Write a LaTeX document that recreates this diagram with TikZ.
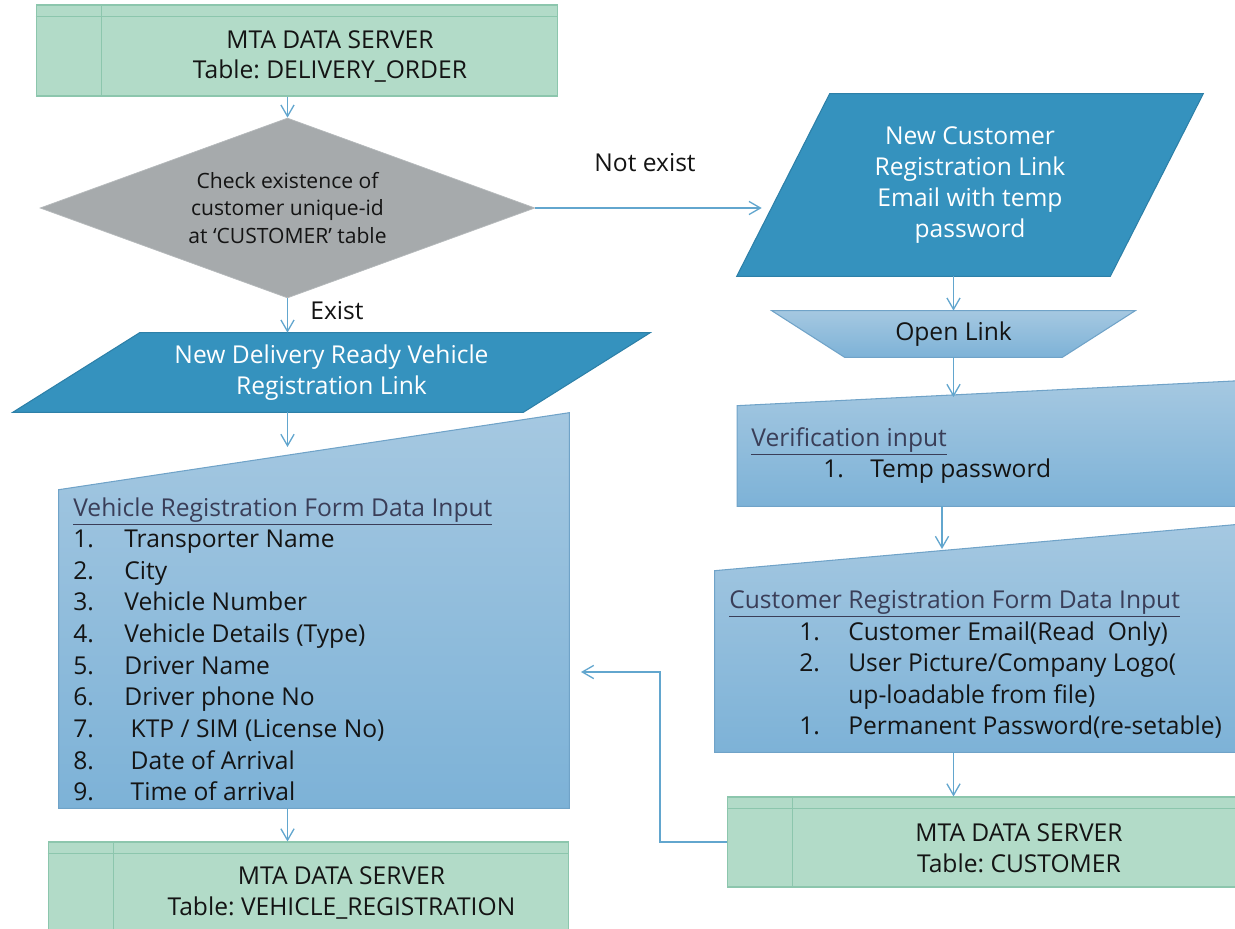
\documentclass[tikz,border=0pt]{standalone}
\usepackage{fontspec}
\setmainfont{Open Sans}
\frenchspacing
\usetikzlibrary{shapes.geometric,arrows.meta,calc,backgrounds}

\definecolor{ServerFill}{RGB}{178,219,200}
\definecolor{ServerEdge}{RGB}{140,198,173}
\definecolor{CheckFill}{RGB}{166,170,172}
\definecolor{CheckEdge}{RGB}{182,186,188}
\definecolor{LinkFill}{RGB}{53,146,190}
\definecolor{LinkEdge}{RGB}{45,128,168}
\definecolor{InputTop}{RGB}{165,200,225}
\definecolor{InputBottom}{RGB}{125,178,215}
\definecolor{InputEdge}{RGB}{112,163,200}
\definecolor{EdgeBlue}{RGB}{98,166,206}
\definecolor{Ink}{RGB}{20,20,20}
\definecolor{TitleInk}{RGB}{58,62,88}

\newcommand{\BoxFont}{\fontsize{14pt}{17.6pt}\selectfont}
\newcommand{\ListFont}{\fontsize{14pt}{18pt}\selectfont}
\newcommand{\CheckFont}{\fontsize{12pt}{15.4pt}\selectfont}
\newcommand{\Num}[2]{\makebox[#1][l]{#2}}

\tikzstyle{ServerNode}=[rectangle, draw=ServerEdge, fill=ServerFill, line width=0.6pt, inner sep=0pt]
\tikzstyle{ServerLine}=[draw=ServerEdge, line width=0.6pt]
\tikzstyle{ServerText}=[align=center, font=\BoxFont, text=Ink, inner sep=0pt]
\tikzstyle{CheckNode}=[diamond, aspect=2.7, fill=CheckFill, draw=CheckEdge, line width=0.4pt, inner sep=0pt, align=center, font=\CheckFont, text=Ink]
\tikzstyle{AreaNode}=[rectangle, inner sep=0pt]
\tikzstyle{LinkNode}=[AreaNode, align=center, font=\BoxFont, text=white]
\tikzstyle{OpenNode}=[AreaNode, font=\BoxFont, text=Ink]
\tikzstyle{LinkShape}=[fill=LinkFill, draw=LinkEdge, line width=0.6pt]
\tikzstyle{InputShape}=[top color=InputTop, bottom color=InputBottom, draw=InputEdge, line width=0.6pt]
\tikzstyle{FormText}=[anchor=north west, inner sep=0pt, align=left, font=\ListFont, text=Ink]
\tikzstyle{EdgeLabel}=[font=\BoxFont, text=Ink, inner sep=0pt]
\tikzstyle{FlowEdge}=[->, draw=EdgeBlue, line width=0.75pt]
\tikzset{>={Straight Barb[length=6.5pt,width=7.5pt]}}

\begin{document}
\begin{tikzpicture}[x=0.02cm, y=-0.02cm]
\useasboundingbox (0,0) rectangle (1235,929);

% servers
\node[ServerNode, minimum width=10.44cm, minimum height=1.82cm](SRV0) at (297,50.5) {};
\draw[ServerLine] ($(SRV0.north west)+(66,0)$) -- ($(SRV0.south west)+(66,0)$);
\draw[ServerLine] ($(SRV0.north west)+(0,12)$) -- ($(SRV0.north east)+(0,12)$);
\node[ServerText](SRV0TXT) at ($(SRV0.center)+(33,6)$) {MTA DATA SERVER\\Table: DELIVERY\_ORDER};

\node[ServerNode, minimum width=10.42cm, minimum height=1.8cm](SRVV) at (308.5,887) {};
\draw[ServerLine] ($(SRVV.north west)+(66,0)$) -- ($(SRVV.south west)+(66,0)$);
\draw[ServerLine] ($(SRVV.north west)+(0,12)$) -- ($(SRVV.north east)+(0,12)$);
\node[ServerText](SRVVTXT) at ($(SRVV.center)+(33,6)$) {MTA DATA SERVER\\Table: VEHICLE\_REGISTRATION};

\node[ServerNode, minimum width=10.36cm, minimum height=1.8cm](SRVC) at (986,842) {};
\draw[ServerLine] ($(SRVC.north west)+(66,0)$) -- ($(SRVC.south west)+(66,0)$);
\draw[ServerLine] ($(SRVC.north west)+(0,12)$) -- ($(SRVC.north east)+(0,12)$);
\node[ServerText](SRVCTXT) at ($(SRVC.center)+(33,6)$) {MTA DATA SERVER\\Table: CUSTOMER};

% decision
\node[CheckNode, minimum width=9.9cm, minimum height=3.6cm](CHECK) at (287.5,208) {Check existence of\\customer unique-id\\at `CUSTOMER' table};

% links
\node[LinkNode, minimum width=12.74cm, minimum height=1.58cm](LINKV) at (331.5,372.5) {New Delivery Ready Vehicle\\Registration Link};
\node[LinkNode, minimum width=9.32cm, minimum height=3.64cm](LINKC) at (970,185) {New Customer\\Registration Link\\Email with temp\\password};
\node[OpenNode, minimum width=7.26cm, minimum height=0.92cm](OPEN) at (953.5,334) {Open Link};

% manual inputs
\node[AreaNode, minimum width=10.2cm, minimum height=7.9cm](FORMV) at (314,610.5) {};
\node[AreaNode, minimum width=10.05cm, minimum height=2.5cm](VERIF) at (988.75,443.5) {};
\node[AreaNode, minimum width=10.5cm, minimum height=4.55cm](FORMC) at (977.5,638.25) {};

\begin{scope}[on background layer]
\path[LinkShape] ($(LINKV.north west)+(127,0)$) -- (LINKV.north east) -- ($(LINKV.south east)+(-127,0)$) -- (LINKV.south west) -- cycle;
\path[LinkShape] ($(LINKC.north west)+(93,0)$) -- (LINKC.north east) -- ($(LINKC.south east)+(-93,0)$) -- (LINKC.south west) -- cycle;
\path[InputShape] (OPEN.north west) -- (OPEN.north east) -- ($(OPEN.south east)+(-73,0)$) -- ($(OPEN.south west)+(73,0)$) -- cycle;
\path[InputShape] ($(FORMV.north west)+(0,77)$) -- (FORMV.north east) -- (FORMV.south east) -- (FORMV.south west) -- cycle;
\path[InputShape] ($(VERIF.north west)+(0,25)$) -- (VERIF.north east) -- (VERIF.south east) -- (VERIF.south west) -- cycle;
\path[InputShape] ($(FORMC.north west)+(0,46.5)$) -- (FORMC.north east) -- (FORMC.south east) -- (FORMC.south west) -- cycle;
\end{scope}

\node[FormText](FORMVTXT) at (73,497) {\textcolor{TitleInk}{\underline{Vehicle Registration Form Data Input}}\\
\Num{1.02cm}{1.}Transporter Name\\
\Num{1.02cm}{2.}City\\
\Num{1.02cm}{3.}Vehicle Number\\
\Num{1.02cm}{4.}Vehicle Details (Type)\\
\Num{1.02cm}{5.}Driver Name\\
\Num{1.02cm}{6.}Driver phone No\\
\Num{1.02cm}{7.}~KTP / SIM (License No)\\
\Num{1.02cm}{8.}~Date of Arrival\\
\Num{1.02cm}{9.}~Time of arrival};

\node[FormText](VERIFTXT) at (751,427) {\textcolor{TitleInk}{\underline{Verification input}}\\
\hspace*{1.44cm}\Num{0.94cm}{1.}Temp password};

\node[FormText](FORMCTXT) at (729,590) {\textcolor{TitleInk}{\underline{Customer Registration Form Data Input}}\\
\hspace*{1.4cm}\Num{0.98cm}{1.}Customer Email(Read~~Only)\\
\hspace*{1.4cm}\Num{0.98cm}{2.}User Picture/Company Logo(\\
\hspace*{2.38cm}up-loadable from file)\\
\hspace*{1.4cm}\Num{0.98cm}{1.}Permanent Password(re-setable)};

% labels
\node[EdgeLabel](NOTEXIST) at (645,163) {Not exist};
\node[EdgeLabel](EXIST) at (337,311) {Exist};

% connector ends
\coordinate (FORMVIN) at (287.5,447);
\coordinate (VERIFIN) at (953.5,397);
\coordinate (FORMCIN) at (942,549);
\coordinate (BACKBEND) at (660,672);
\coordinate (FORMVBACK) at (581,672);

\draw[FlowEdge](SRV0.south -| CHECK.north) -- (CHECK.north);
\draw[FlowEdge](CHECK.east) -- ([xshift=0.5cm]CHECK.east -| LINKC.west);
\draw[FlowEdge](CHECK.south) -- (CHECK.south |- LINKV.north);
\draw[FlowEdge](CHECK.south |- LINKV.south) -- (FORMVIN);
\draw[FlowEdge](CHECK.south |- FORMV.south) -- (CHECK.south |- SRVV.north);
\draw[FlowEdge](OPEN.north |- LINKC.south) -- (OPEN.north);
\draw[FlowEdge](OPEN.south) -- (VERIFIN);
\draw[FlowEdge](FORMCIN |- VERIF.south) -- (FORMCIN);
\draw[FlowEdge](OPEN.south |- FORMC.south) -- (OPEN.south |- SRVC.north);
\draw[FlowEdge](SRVC.west) -| (BACKBEND) -- (FORMVBACK);
\end{tikzpicture}
\end{document}
